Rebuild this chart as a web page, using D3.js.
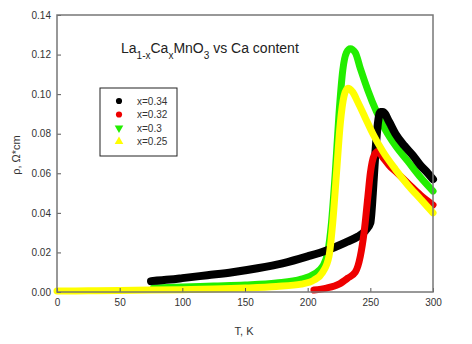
<!DOCTYPE html>
<html>
<head>
<meta charset="utf-8">
<script src="https://cdn.jsdelivr.net/npm/d3@7"></script>
<style>
  body { margin: 0; background: #fff; }
  text { font-family: "Liberation Sans", Arial, sans-serif; }
</style>
</head>
<body>
<div id="chart"></div>
<script>
// data
var seriesNames = ["x=0.34", "x=0.32", "x=0.3", "x=0.25"];
var seriesColors = ["#000000", "#ee0000", "#22ee00", "#ffff00"];

var t034 = [75, 90, 100, 120, 140, 160, 180, 200, 215, 230, 240, 246, 250, 252, 254, 256, 258, 260, 265, 270, 277, 284, 290, 296, 300];
var r034 = [0.0055, 0.0063, 0.007, 0.0085, 0.010, 0.012, 0.0145, 0.018, 0.021, 0.025, 0.028, 0.031, 0.035, 0.05, 0.07, 0.085, 0.091, 0.091, 0.086, 0.080, 0.074, 0.069, 0.064, 0.060, 0.057];

var t032 = [205, 215, 225, 232, 238, 242, 245, 248, 250, 253, 256, 260, 265, 270, 280, 290, 300];
var r032 = [0.001, 0.002, 0.004, 0.007, 0.010, 0.018, 0.030, 0.048, 0.060, 0.069, 0.071, 0.068, 0.064, 0.061, 0.055, 0.049, 0.044];

var t030 = [77, 100, 125, 150, 175, 195, 205, 212, 216, 219, 222, 225, 228, 231, 234, 238, 242, 248, 255, 262, 270, 280, 290, 300];
var r030 = [0.002, 0.0025, 0.003, 0.0035, 0.0045, 0.0065, 0.009, 0.013, 0.02, 0.035, 0.06, 0.09, 0.112, 0.121, 0.123, 0.121, 0.113, 0.102, 0.091, 0.082, 0.074, 0.066, 0.058, 0.051];

var t025 = [0, 25, 50, 75, 100, 125, 150, 175, 195, 205, 212, 217, 220, 223, 226, 229, 232, 236, 240, 246, 252, 260, 270, 280, 290, 300];
var r025 = [0.0005, 0.0006, 0.0008, 0.001, 0.0012, 0.0015, 0.002, 0.0028, 0.004, 0.006, 0.010, 0.018, 0.035, 0.06, 0.085, 0.099, 0.103, 0.101, 0.096, 0.088, 0.080, 0.071, 0.062, 0.054, 0.047, 0.040];

var xTicks = [0, 50, 100, 150, 200, 250, 300];
var yTicks = [0, 0.02, 0.04, 0.06, 0.08, 0.10, 0.12, 0.14];

var canvas_width = 472,
    canvas_height = 344;

var margin = { top: 15, right: 39, bottom: 52, left: 57 };
var width = canvas_width - margin.left - margin.right;
var height = canvas_height - margin.top - margin.bottom;

var svg = d3.select("#chart")
    .append("svg")
    .attr("width", canvas_width)
    .attr("height", canvas_height);

var xScale = d3.scaleLinear().domain([0, 300]).range([0, width]);
var yScale = d3.scaleLinear().domain([0, 0.14]).range([height, 0]);

var g = svg.append("g")
    .attr("transform", "translate(" + margin.left + "," + margin.top + ")");

function zip(ts, rs) {
    return ts.map(function (t, i) { return { t: t, r: rs[i] }; });
}

var source = [
    { key: seriesNames[0], color: seriesColors[0], w: 8, values: zip(t034, r034) },
    { key: seriesNames[1], color: seriesColors[1], w: 7, values: zip(t032, r032) },
    { key: seriesNames[2], color: seriesColors[2], w: 7, values: zip(t030, r030) },
    { key: seriesNames[3], color: seriesColors[3], w: 7, values: zip(t025, r025) }
];

// drawing order: green under black, then red, then yellow
var drawOrder = [source[2], source[0], source[1], source[3]];

var line = d3.line()
    .x(function (d) { return xScale(d.t); })
    .y(function (d) { return yScale(d.r); })
    .curve(d3.curveMonotoneX);

g.selectAll(".series")
    .data(drawOrder)
    .enter()
    .append("path")
    .attr("class", "series")
    .attr("fill", "none")
    .attr("stroke", function (d) { return d.color; })
    .attr("stroke-width", function (d) { return d.w; })
    .attr("stroke-linejoin", "round")
    .attr("stroke-linecap", "round")
    .attr("d", function (d) { return line(d.values); });

// Axes
var yAxis = g.append("g")
    .call(d3.axisLeft(yScale).tickValues(yTicks).tickFormat(d3.format(".2f"))
        .tickSizeInner(-4).tickSizeOuter(0).tickPadding(6));

var xAxis = g.append("g")
    .attr("transform", "translate(0," + height + ")")
    .call(d3.axisBottom(xScale).tickValues(xTicks).tickFormat(d3.format("d"))
        .tickSizeInner(-4).tickSizeOuter(0).tickPadding(7));

[xAxis, yAxis].forEach(function (ax) {
    ax.select(".domain").remove();
    ax.selectAll("line").attr("stroke", "#555");
    ax.selectAll("text")
        .attr("fill", "#333")
        .style("font-size", "10px")
        .style("font-family", "Liberation Sans, Arial, sans-serif");
});

// frame
g.append("rect")
    .attr("x", 0)
    .attr("y", 0)
    .attr("width", width)
    .attr("height", height)
    .attr("fill", "none")
    .attr("stroke", "#777")
    .attr("stroke-width", 1.5);

// Labels
svg.append("text")
    .attr("transform", "translate(" + (margin.left + width / 2 - 1) + "," + (canvas_height - 9) + ")")
    .attr("text-anchor", "middle")
    .attr("fill", "#333")
    .style("font-size", "11px")
    .text("T, K");

svg.append("text")
    .attr("transform", "translate(20,155) rotate(-90)")
    .attr("text-anchor", "middle")
    .attr("fill", "#333")
    .style("font-size", "11px")
    .text("ρ, Ω*cm");

// title with subscripts
var title = svg.append("text")
    .attr("x", 121)
    .attr("y", 53)
    .attr("fill", "#222")
    .style("font-size", "14px");
[["La", false], ["1-x", true], ["Ca", false], ["x", true], ["MnO", false], ["3", true], [" vs Ca content", false]]
    .forEach(function (p) {
        var ts = title.append("tspan").text(p[0]);
        if (p[1]) ts.attr("baseline-shift", "sub").style("font-size", "10px");
    });

// legend
var legendX = 100, legendY = 88;
svg.append("rect")
    .attr("x", legendX)
    .attr("y", legendY)
    .attr("width", 77)
    .attr("height", 68)
    .attr("fill", "#fff")
    .attr("stroke", "#222")
    .attr("stroke-width", 1);

var symbols = [d3.symbolCircle, d3.symbolCircle, d3.symbolTriangle, d3.symbolTriangle];
var rotations = [0, 0, 180, 0];

var items = svg.selectAll(".legend-item")
    .data(source)
    .enter()
    .append("g")
    .attr("class", "legend-item")
    .attr("transform", function (d, i) { return "translate(" + (legendX + 19) + "," + (legendY + 13 + i * 13.5) + ")"; });

items.append("path")
    .attr("d", function (d, i) { return d3.symbol().type(symbols[i]).size(i < 2 ? 30 : 32)(); })
    .attr("transform", function (d, i) { return "rotate(" + rotations[i] + ")"; })
    .attr("fill", function (d) { return d.color; });

items.append("text")
    .attr("x", 18)
    .attr("dy", "0.35em")
    .attr("fill", "#333")
    .style("font-size", "10px")
    .text(function (d) { return d.key; });
</script>
</body>
</html>
